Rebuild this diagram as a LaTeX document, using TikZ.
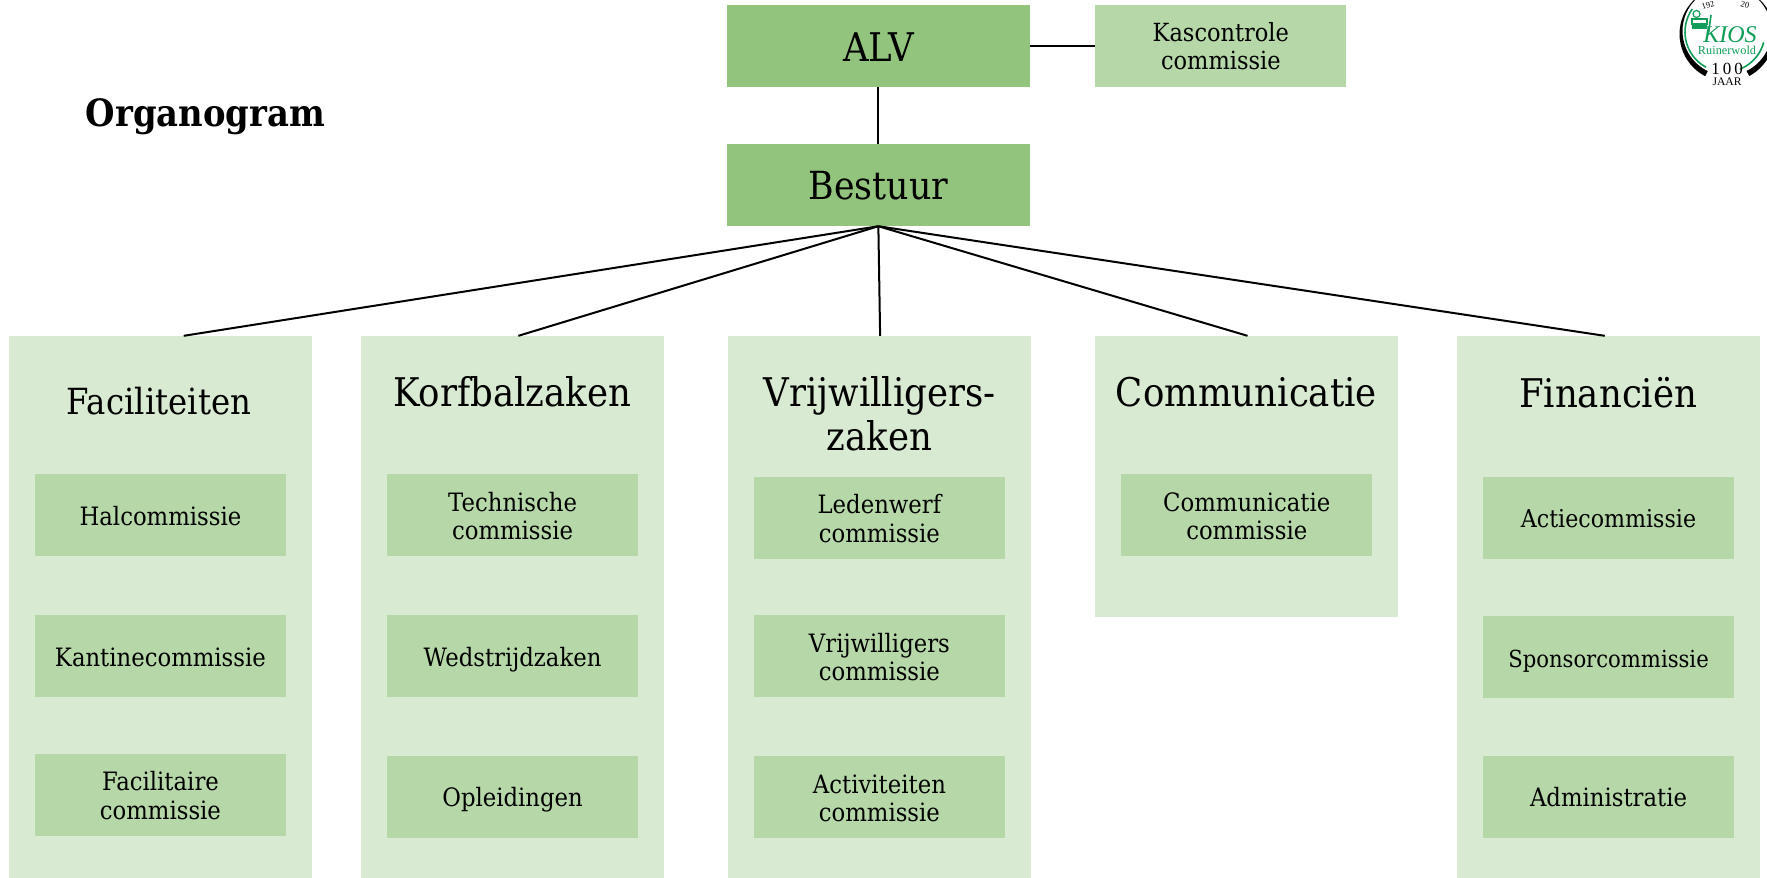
\documentclass[tikz,border=0pt]{standalone}
\usepackage{fontspec}
\setmainfont{DejaVu Serif}[FakeStretch=0.9]
\newfontfamily\logoserif{Liberation Serif}
\definecolor{topg}{HTML}{93C47D}
\definecolor{subg}{HTML}{B6D7A8}
\definecolor{pang}{HTML}{D9EAD3}
\definecolor{logog}{HTML}{0F9D58}
\tikzset{
  box/.style={anchor=north west,inner sep=0pt,outer sep=0pt,align=center,text=black},
  topbox/.style={box,fill=topg,minimum width=303pt,minimum height=82pt,font=\fontsize{39.5}{44}\selectfont},
  kasbox/.style={box,fill=subg,minimum width=251pt,minimum height=82pt,font=\fontsize{25}{28.5}\selectfont,text height=48.5pt,text depth=0pt},
  subbox/.style={box,fill=subg,minimum width=251pt,minimum height=82pt,font=\fontsize{25.3}{28.5}\selectfont,execute at begin node={\rule{0pt}{28pt}},execute at end node={\rule[-8.5pt]{0pt}{8.5pt}}},
  twoline/.style={box,fill=subg,minimum width=251pt,minimum height=82pt,font=\fontsize{25.3}{28.5}\selectfont,text height=49pt,text depth=0pt},
  panel/.style={box,fill=pang,minimum width=303pt},
  ptitle/.style={inner sep=0pt,align=center,font=\fontsize{39.5}{43.5}\selectfont},
  link/.style={draw=black,line width=2pt},
  logotext/.style={inner sep=0pt,font=\logoserif},
}
\begin{document}
\begin{tikzpicture}[x=1.1269pt,y=-1.1269pt]
\useasboundingbox (0,0) rectangle (1568,779.1);
\fill[white] (0,0) rectangle (1568,779.1);
\node[panel,minimum height=542.5pt] (pf) at (8,298) {};
\node[panel,minimum height=542.5pt] (pk) at (320,298) {};
\node[panel,minimum height=542.5pt] (pv) at (646,298) {};
\node[panel,minimum height=281pt] (pc) at (972,298) {};
\node[panel,minimum height=542.5pt] (pn) at (1293,298) {};
\node[ptitle,font=\fontsize{36}{43}\selectfont] (tf) at (141,356) {Faciliteiten};
\node[ptitle] (tk) at (454.5,348) {Korfbalzaken};
\node[ptitle] (tv) at (780.5,367) {Vrijwilligers-\\zaken};
\node[ptitle] (tc) at (1106,348) {Communicatie};
\node[ptitle] (tn) at (1427,348) {Financiën};
% top
\node[topbox,text height=31.5pt,text depth=0pt] (alv) at (645,4) {ALV};
\node[topbox,font=\fontsize{38.7}{44}\selectfont] (bes) at (645,128) {Bestuur};
\node[kasbox] (kas) at (972,4) {Kascontrole\\commissie};
% subs
\node[subbox] (f1) at (31,421) {Halcommissie};
\node[subbox] (f2) at (31,546) {Kantinecommissie};
\node[twoline] (f3) at (31,669) {Facilitaire\\commissie};
\node[twoline] (k1) at (343.5,421) {Technische\\commissie};
\node[subbox] (k2) at (343.5,546) {Wedstrijdzaken};
\node[subbox] (k3) at (343.5,671) {Opleidingen};
\node[twoline] (v1) at (669,423) {Ledenwerf\\commissie};
\node[twoline] (v2) at (669,546) {Vrijwilligers\\commissie};
\node[twoline] (v3) at (669,671) {Activiteiten\\commissie};
\node[twoline] (c1) at (995,421) {Communicatie\\commissie};
\node[subbox,font=\fontsize{24.6}{28.5}\selectfont] (n1) at (1316,423) {Actiecommissie};
\node[subbox,font=\fontsize{23.5}{28.5}\selectfont] (n2) at (1316,547) {Sponsorcommissie};
\node[subbox] (n3) at (1316,671) {Administratie};
\node[inner sep=0pt,anchor=west,font=\bfseries\fontsize{37.6}{40}\selectfont] (org) at (76,103.5) {Organogram};
% connectors
\draw[link] (alv.south) -- (bes.north);
\draw[link] (alv.east) -- (kas.west);
\coordinate (c0) at (bes.south);
\path (pf.north west) ++(155,0) coordinate (ef);
\path (pk.north west) ++(140,0) coordinate (ek);
\path (pv.north west) ++(135,0) coordinate (ev);
\path (pc.north west) ++(135,0) coordinate (ec);
\path (pn.north west) ++(131,0) coordinate (en);
\draw[link] (c0) -- (ef);
\draw[link] (c0) -- (ek);
\draw[link] (c0) -- (ev);
\draw[link] (c0) -- (ec);
\draw[link] (c0) -- (en);
% logo, in reference pixels
\begin{scope}[x=1pt,y=-1pt]
\clip (1660,0) rectangle (1767,100);
\begin{scope}
\clip (1726,34) -- (1694,99) -- (1660,99) -- (1660,-5) -- (1780,-5) -- (1780,99) -- (1762,99) -- cycle;
\fill[black,even odd rule] (1727,34) circle[radius=47.5pt] (1727,31) circle[radius=44.5pt];
\end{scope}
\draw[logog,line width=1.6pt] plot[smooth,domain=118:215,samples=25] ({1725+40*cos(\x)},{32+40*sin(\x)});
\draw[logog,line width=1.6pt] plot[smooth,domain=15:68,samples=20] ({1725+40*cos(\x)},{32+40*sin(\x)});
% book icon
\draw[logog,line width=1.2pt] (1696.5,14) circle[radius=3.5pt];
\draw[logog,line width=1.2pt] (1692,19) rectangle (1707,24);
\fill[logog] (1692,24) rectangle (1707,29);
\draw[logog,line width=1.6pt] (1711,15) -- (1708.5,33);
\node[logotext,logog,font=\logoserif\itshape\fontsize{24}{24}\selectfont] (lk) at (1730,35) {KIOS};
\node[logotext,logog,font=\logoserif\fontsize{12.3}{13}\selectfont] (lr) at (1727,50) {Ruinerwold};
\node[logotext,black,font=\logoserif\fontsize{17}{17}\selectfont] (l1) at (1727,69) {1\hspace{3pt}0\hspace{3pt}0};
\node[logotext,black,font=\logoserif\fontsize{11.6}{12}\selectfont] (l2) at (1727,82) {JAAR};
\node[logotext,black,rotate=17,font=\logoserif\fontsize{8.5}{9}\selectfont] (t1) at (1708,5) {192};
\node[logotext,black,rotate=-15,font=\logoserif\fontsize{8.5}{9}\selectfont] (t2) at (1745,5) {20};
\end{scope}
\end{tikzpicture}
\end{document}
